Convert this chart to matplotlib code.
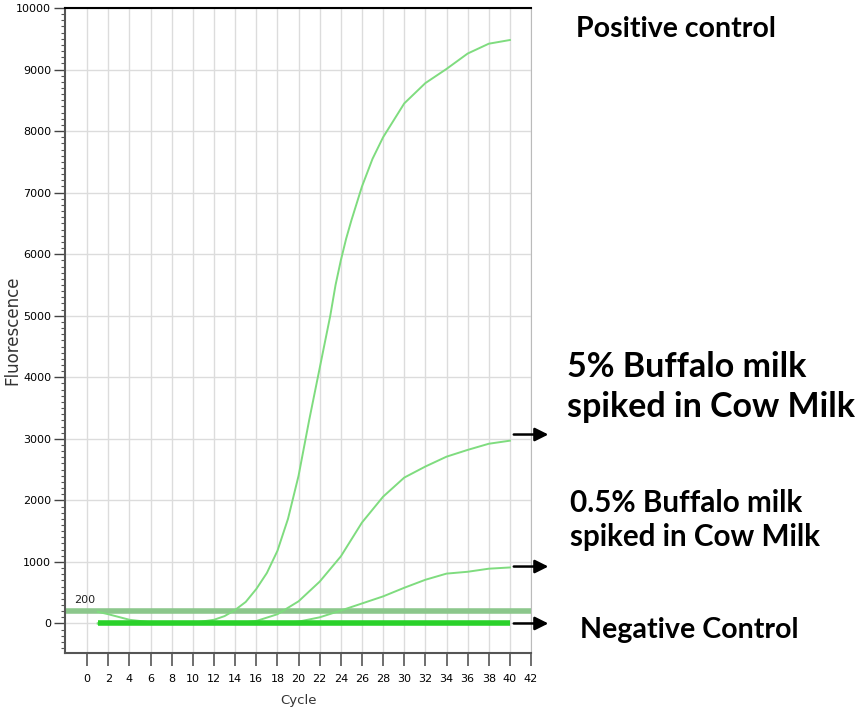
import numpy as np
import matplotlib
matplotlib.use('Agg')
import matplotlib.pyplot as plt
from matplotlib.ticker import MultipleLocator

# qPCR amplification curves
pos_cycles = [1, 2, 4, 6, 8, 10, 12, 13, 14, 15, 16, 17, 18, 19, 20, 21, 22, 23, 23.5,
              24, 24.5, 25, 26, 27, 28, 30, 32, 34, 36, 38, 40]
pos_values = [190, 150, 60, 20, 0, 10, 60, 120, 220, 350, 560, 820, 1180, 1700, 2400,
              3300, 4150, 5000, 5500, 5900, 6250, 6550, 7100, 7550, 7900, 8450, 8780,
              9010, 9260, 9420, 9480]

five_cycles = [1, 14, 16, 18, 20, 22, 24, 26, 28, 30, 32, 34, 36, 38, 40]
five_values = [0, 0, 40, 150, 360, 680, 1090, 1640, 2060, 2370, 2550, 2710, 2820, 2920, 2970]

half_cycles = [1, 18, 20, 22, 24, 26, 28, 30, 32, 34, 36, 38, 40]
half_values = [0, 0, 30, 100, 210, 325, 440, 580, 710, 810, 840, 890, 910]

neg_cycles = [1, 40]
neg_values = [0, 0]

threshold = 200
x_ticks = list(range(0, 43, 2))

fig = plt.figure(figsize=(8.6, 7.15), dpi=100)
ax = fig.add_axes([0.0756, 0.0867, 0.5419, 0.9021])

# threshold line
ax.axhline(threshold, color='#8cc78c', lw=4, zorder=2)
ax.text(-1.2, threshold + 130, str(threshold), fontsize=8, color='#222222')

ax.plot(pos_cycles, pos_values, color='#7fdc7f', lw=1.4, zorder=3)
ax.plot(five_cycles, five_values, color='#7fdc7f', lw=1.4, zorder=3)
ax.plot(half_cycles, half_values, color='#7fdc7f', lw=1.4, zorder=3)
ax.plot(neg_cycles, neg_values, color='#2ad12a', lw=4, zorder=4, solid_capstyle='butt')

ax.set_xlim(-2.1, 42)
ax.set_ylim(-480, 10000)
ax.set_xticks(x_ticks)
ax.set_xticklabels([str(t) for t in x_ticks], fontsize=8)
ax.yaxis.set_major_locator(MultipleLocator(1000))
ax.yaxis.set_minor_locator(MultipleLocator(100))
ax.tick_params(axis='y', labelsize=8, length=8, width=1, color='#444444', pad=2)
ax.tick_params(axis='y', which='minor', length=3, width=0.8, color='#555555')
ax.tick_params(axis='x', length=9, width=1.2, color='#555555', pad=6)
ax.grid(True, color='#dcdcdc', lw=1)
ax.set_axisbelow(True)

for side in ['left', 'bottom']:
    ax.spines[side].set_color('#555555')
    ax.spines[side].set_linewidth(1.5)
ax.spines['top'].set_color('black')
ax.spines['top'].set_linewidth(1.5)
ax.spines['right'].set_color('#bbbbbb')

ax.set_xlabel('Cycle', fontsize=9.5, color='#333333')
ax.xaxis.set_label_coords(0.5, -0.073)
ax.xaxis.label.set_va('center')
ax.set_ylabel('Fluorescence', fontsize=12, color='#333333')
ax.yaxis.set_label_coords(-0.112, 0.5)
ax.yaxis.label.set_va('center')

# arrows to the labels on the right
for y in [3070, 925, 0]:
    ax.annotate('', xy=(43.9, y), xytext=(40.1, y),
                arrowprops=dict(arrowstyle='-|>', color='black', lw=1.8, mutation_scale=20),
                annotation_clip=False)

lbl = dict(family='Lato', fontweight='bold', color='black')
fig.text(576 / 860, 1 - 29 / 715, 'Positive control', fontsize=20.5, va='center', **lbl)
fig.text(567 / 860, 1 - 387 / 715, '5% Buffalo milk\nspiked in Cow Milk', fontsize=24.5,
         va='center', linespacing=1.32, **lbl)
fig.text(570 / 860, 1 - 520 / 715, '0.5% Buffalo milk\nspiked in Cow Milk', fontsize=21.3,
         va='center', linespacing=1.3, **lbl)
fig.text(580 / 860, 1 - 630 / 715, 'Negative Control', fontsize=20.6, va='center', **lbl)

plt.savefig('out.png', dpi=100)
